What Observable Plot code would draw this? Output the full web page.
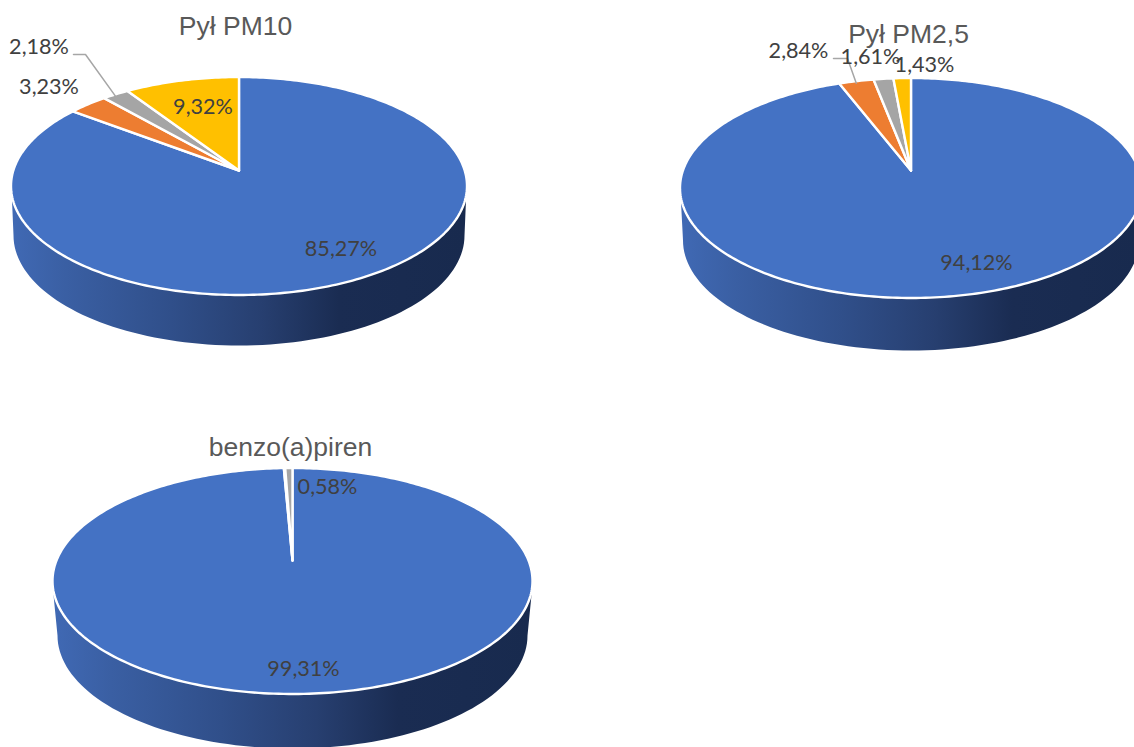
<!DOCTYPE html>
<html>
<head>
<meta charset="utf-8">
<style>html,body{margin:0;padding:0;background:#fff;overflow:hidden}</style>
<script src="https://cdn.jsdelivr.net/npm/d3@7"></script>
<script src="https://cdn.jsdelivr.net/npm/@observablehq/plot@0.6"></script>
</head>
<body>
<div id="chart"></div>
<script>
// Data, clockwise from twelve o'clock
const pm10Values = [85.27, 3.23, 2.18, 9.32];
const pm25Values = [94.12, 2.84, 1.61, 1.43];
const benzoValues = [99.31, 0.11, 0.58];
const pm10Labels = ["85,27%", "3,23%", "2,18%", "9,32%"];
const pm25Labels = ["94,12%", "2,84%", "1,61%", "1,43%"];
const benzoLabels = ["99,31%", "", "0,58%"];
const titles = ["Pył PM10", "Pył PM2,5", "benzo(a)piren"];
const sliceColors = ["#4472c4", "#ed7d31", "#a5a5a5", "#ffc000"];

// Layout, separate from the data
const pieLayouts = [
  {cx: 238.5, cy: 185.5, rx: 228, ry: 109, apexY: 170, bx: 238.5, bcy: 235, brx: 225.5, bry: 110,
   titleAt: [235, 26], labelAt: [[340.5, 249], [48.5, 87], [38.5, 47], [202.5, 107]], elbow: {2: [[85, 54], [73, 54]]}},
  {cx: 910.5, cy: 187.5, rx: 231, ry: 110, apexY: 170, bx: 910.5, bcy: 240, brx: 228, bry: 110,
   titleAt: [908, 34], labelAt: [[976, 263], [798, 51], [870, 57], [924, 65]], elbow: {1: [[847, 58], [833, 58]]}},
  {cx: 292, cy: 580.5, rx: 240, ry: 113, apexY: 560, bx: 292, bcy: 635, brx: 235, bry: 113,
   titleAt: [290, 447], labelAt: [[303, 669], null, [327, 487]], elbow: {}}
];
const pies = [
  {values: pm10Values, labels: pm10Labels},
  {values: pm25Values, labels: pm25Labels},
  {values: benzoValues, labels: benzoLabels}
];

// Perspective projection: share of the circle -> point on the tilted rim
function rimPoint(l, share) {
  const th = share * 2 * Math.PI;
  const u = Math.sin(th), v = -Math.cos(th);
  const a = (l.apexY - l.cy) / l.ry;
  const den = 1 + a * v;
  return [l.cx + l.rx * u * Math.sqrt(1 - a * a) / den, l.cy + l.ry * (v + a) / den];
}

const slicePts = [], sidePts = [], textRows = [], titleRows = [], leaderPts = [];
pies.forEach((pie, p) => {
  const l = pieLayouts[p];
  titleRows.push({x: l.titleAt[0], y: l.titleAt[1], t: titles[p]});
  // side wall
  for (let d = 180; d >= 0; d -= 2) {
    const r = d * Math.PI / 180;
    sidePts.push({k: p, x: l.bx + l.brx * Math.cos(r), y: l.bcy + l.bry * Math.sin(r)});
  }
  sidePts.push({k: p, x: l.cx + l.rx - 1, y: l.cy + 14}, {k: p, x: l.cx + l.rx - 1, y: l.cy - 5},
               {k: p, x: l.cx - l.rx + 1, y: l.cy - 5}, {k: p, x: l.cx - l.rx + 1, y: l.cy + 14});
  // top slices
  let acc = 0;
  const total = d3.sum(pie.values);
  pie.values.forEach((v, i) => {
    const from = acc / total, to = (acc + v) / total;
    acc += v;
    const key = `${p}-${i}`, color = sliceColors[i];
    const steps = Math.max(2, Math.ceil((to - from) * 360));
    slicePts.push({k: key, c: color, x: l.cx, y: l.apexY});
    for (let s = 0; s <= steps; s++) {
      const q = rimPoint(l, from + (to - from) * s / steps);
      slicePts.push({k: key, c: color, x: q[0], y: q[1]});
    }
    slicePts.push({k: key, c: color, x: l.cx, y: l.apexY});
    if (l.labelAt[i]) textRows.push({x: l.labelAt[i][0], y: l.labelAt[i][1], t: pie.labels[i]});
    if (l.elbow[i]) {
      const m = rimPoint(l, (from + to) / 2);
      leaderPts.push({k: key, x: m[0], y: m[1] + 2});
      l.elbow[i].forEach(e => leaderPts.push({k: key, x: e[0], y: e[1]}));
    }
  });
});

const gradient = () => {
  const ns = "http://www.w3.org/2000/svg";
  const defs = document.createElementNS(ns, "defs");
  const g = document.createElementNS(ns, "linearGradient");
  g.setAttribute("id", "sideGrad");
  [[0, "#4069b4"], [0.12, "#3a5fa3"], [0.35, "#304f8a"], [0.55, "#273f70"], [0.72, "#1a2c52"], [1, "#182a4e"]].forEach(([o, c]) => {
    const s = document.createElementNS(ns, "stop");
    s.setAttribute("offset", o);
    s.setAttribute("stop-color", c);
    g.appendChild(s);
  });
  defs.appendChild(g);
  return defs;
};

const chart = Plot.plot({
  width: 1134, height: 747,
  margin: 0,
  style: {background: "#fff", overflow: "hidden"},
  x: {domain: [0, 1134], axis: null},
  y: {domain: [747, 0], range: [747, 0], axis: null},
  marks: [
    gradient,
    Plot.line(sidePts, {x: "x", y: "y", z: "k", fill: "url(#sideGrad)", stroke: "none"}),
    Plot.line(slicePts, {x: "x", y: "y", z: "k", fill: "c", stroke: "#fff", strokeWidth: 2.4, strokeLinejoin: "round", curve: "linear"}),
    Plot.line(leaderPts, {x: "x", y: "y", z: "k", stroke: "#a6a6a6", strokeWidth: 1.5}),
    Plot.text(titleRows, {x: "x", y: "y", text: "t", fontFamily: "Liberation Sans", fontSize: 26.5, fill: "#595959"}),
    Plot.text(textRows, {x: "x", y: "y", text: "t", fontFamily: "Lato", fontSize: 21.6, fill: "#404040"})
  ]
});
document.getElementById("chart").appendChild(chart);
</script>
</body>
</html>
